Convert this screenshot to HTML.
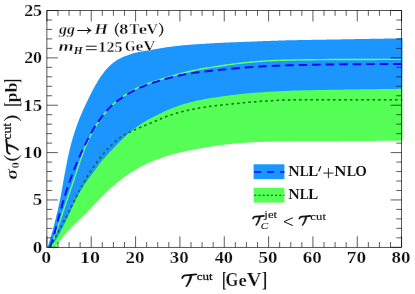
<!DOCTYPE html>
<html><head><meta charset="utf-8"><title>chart</title><style>
html,body{margin:0;padding:0;background:#fff;overflow:hidden;}
svg{display:block;will-change:transform;font-family:"Liberation Serif",serif;font-weight:bold;fill:#111;}
</style></head><body>
<svg width="415" height="294" viewBox="0 0 415 294">
<rect width="415" height="294" fill="#fff"/>
<defs><g id="calT"><path d="M0.15,3.95 C0.6,2.3 1.6,1.5 3.2,1.42 C6,1.28 10.5,0.9 14.3,0.42" fill="none" stroke="#111" stroke-width="1.9" stroke-linecap="round"/><path d="M7.9,1.3 C7.5,4.6 6.3,8.6 3.55,12.45 L4.75,12.75 C7.7,9.1 9.4,5 10.1,1.1 Z" fill="#111" stroke="#111" stroke-width="0.5" stroke-linejoin="round"/></g><g id="calTs"><path d="M0.15,3.95 C0.6,2.3 1.6,1.5 3.2,1.42 C6,1.28 10.5,0.9 14.3,0.42" fill="none" stroke="#111" stroke-width="2.1" stroke-linecap="round"/><path d="M7.9,1.3 C7.5,4.6 6.3,8.6 3.55,12.45 L4.75,12.75 C7.7,9.1 9.4,5 10.1,1.1 Z" fill="#111" stroke="#111" stroke-width="0.7" stroke-linejoin="round"/></g>
<clipPath id="cp"><rect x="46.9" y="10.5" width="355.6" height="236.8"/></clipPath></defs>
<g clip-path="url(#cp)">
<path d="M47.59,247.30 L48.04,245.87 L48.49,244.43 L48.93,243.00 L49.37,241.57 L49.81,240.13 L50.23,238.69 L50.66,237.26 L51.07,235.82 L51.49,234.37 L51.89,232.93 L52.30,231.48 L52.69,230.04 L53.09,228.59 L53.48,227.14 L53.86,225.69 L54.25,224.24 L54.62,222.79 L55.00,221.34 L55.37,219.89 L55.74,218.43 L56.10,216.98 L56.46,215.52 L56.81,214.06 L57.16,212.60 L57.50,211.14 L57.84,209.68 L58.18,208.22 L58.51,206.76 L58.83,205.29 L59.15,203.83 L59.47,202.36 L59.77,200.89 L60.07,199.42 L60.37,197.95 L60.65,196.48 L60.93,195.01 L61.21,193.53 L61.48,192.06 L61.74,190.58 L62.01,189.10 L62.27,187.63 L62.53,186.15 L62.78,184.67 L63.04,183.19 L63.30,181.72 L63.56,180.24 L63.83,178.76 L64.10,177.29 L64.36,175.81 L64.64,174.34 L64.91,172.86 L65.18,171.39 L65.46,169.91 L65.74,168.44 L66.01,166.96 L66.29,165.49 L66.58,164.02 L66.86,162.54 L67.15,161.07 L67.45,159.60 L67.75,158.13 L68.05,156.66 L68.37,155.20 L68.69,153.73 L69.03,152.27 L69.37,150.81 L69.72,149.35 L70.08,147.90 L70.45,146.45 L70.83,144.99 L71.22,143.55 L71.61,142.10 L72.02,140.65 L72.43,139.21 L72.85,137.77 L73.28,136.34 L73.71,134.90 L74.16,133.47 L74.61,132.04 L75.08,130.61 L75.55,129.19 L76.03,127.77 L76.52,126.35 L77.03,124.94 L77.54,123.53 L78.06,122.13 L78.60,120.72 L79.14,119.33 L79.70,117.94 L80.27,116.55 L80.84,115.17 L81.43,113.79 L82.03,112.41 L82.64,111.04 L83.26,109.68 L83.89,108.31 L84.52,106.95 L85.15,105.59 L85.79,104.24 L86.44,102.88 L87.08,101.53 L87.73,100.17 L88.38,98.82 L89.04,97.47 L89.70,96.13 L90.37,94.79 L91.04,93.45 L91.73,92.11 L92.42,90.78 L93.12,89.46 L93.83,88.14 L94.55,86.82 L95.28,85.51 L96.02,84.21 L96.77,82.91 L97.54,81.62 L98.32,80.34 L99.12,79.08 L99.93,77.82 L100.77,76.57 L101.62,75.34 L102.49,74.13 L103.39,72.93 L104.30,71.74 L105.24,70.58 L106.21,69.44 L107.21,68.32 L108.23,67.24 L109.28,66.18 L110.37,65.16 L111.49,64.17 L112.63,63.22 L113.81,62.31 L115.02,61.44 L116.26,60.61 L117.53,59.83 L118.83,59.09 L120.14,58.40 L121.48,57.74 L122.84,57.12 L124.22,56.53 L125.60,55.96 L127.00,55.43 L128.41,54.92 L129.82,54.43 L131.25,53.97 L132.68,53.53 L134.12,53.12 L135.57,52.74 L137.02,52.38 L138.48,52.05 L139.95,51.74 L141.42,51.44 L142.89,51.16 L144.36,50.89 L145.84,50.63 L147.32,50.38 L148.80,50.13 L150.28,49.88 L151.76,49.63 L153.24,49.39 L154.72,49.15 L156.20,48.90 L157.68,48.66 L159.16,48.43 L160.64,48.19 L162.12,47.96 L163.61,47.73 L165.09,47.51 L166.57,47.30 L168.06,47.09 L169.54,46.89 L171.03,46.69 L172.52,46.50 L174.01,46.31 L175.50,46.13 L176.99,45.96 L178.48,45.80 L179.97,45.64 L181.46,45.48 L182.95,45.34 L184.45,45.20 L185.94,45.07 L187.44,44.95 L188.93,44.83 L190.43,44.72 L191.92,44.61 L193.42,44.51 L194.92,44.40 L196.41,44.30 L197.91,44.20 L199.41,44.10 L200.90,44.00 L202.40,43.90 L203.90,43.80 L205.39,43.70 L206.89,43.60 L208.39,43.50 L209.88,43.41 L211.38,43.31 L212.88,43.22 L214.37,43.13 L215.87,43.04 L217.37,42.96 L218.87,42.88 L220.36,42.80 L221.86,42.73 L223.36,42.66 L224.86,42.59 L226.36,42.53 L227.86,42.47 L229.36,42.41 L230.85,42.35 L232.35,42.29 L233.85,42.24 L235.35,42.18 L236.85,42.13 L238.35,42.08 L239.85,42.02 L241.35,41.97 L242.85,41.92 L244.35,41.86 L245.84,41.81 L247.34,41.76 L248.84,41.70 L250.34,41.65 L251.84,41.59 L253.34,41.53 L254.84,41.47 L256.34,41.42 L257.84,41.36 L259.34,41.30 L260.83,41.24 L262.33,41.18 L263.83,41.12 L265.33,41.06 L266.83,41.01 L268.33,40.95 L269.83,40.89 L271.33,40.84 L272.83,40.79 L274.32,40.73 L275.82,40.68 L277.32,40.63 L278.82,40.59 L280.32,40.54 L281.82,40.50 L283.32,40.45 L284.82,40.41 L286.32,40.37 L287.82,40.34 L289.32,40.30 L290.82,40.27 L292.32,40.23 L293.82,40.20 L295.32,40.17 L296.82,40.14 L298.32,40.10 L299.82,40.07 L301.32,40.04 L302.82,40.02 L304.31,39.99 L305.81,39.96 L307.31,39.93 L308.81,39.90 L310.31,39.88 L311.81,39.85 L313.31,39.83 L314.81,39.80 L316.31,39.77 L317.81,39.75 L319.31,39.72 L320.81,39.70 L322.31,39.68 L323.81,39.65 L325.31,39.63 L326.81,39.60 L328.31,39.58 L329.81,39.55 L331.31,39.53 L332.81,39.50 L334.31,39.48 L335.81,39.46 L337.31,39.43 L338.81,39.41 L340.31,39.38 L341.81,39.35 L343.31,39.33 L344.81,39.30 L346.31,39.28 L347.81,39.25 L349.31,39.22 L350.81,39.20 L352.31,39.17 L353.81,39.15 L355.31,39.12 L356.81,39.09 L358.31,39.07 L359.81,39.04 L361.31,39.01 L362.81,38.99 L364.31,38.96 L365.81,38.94 L367.31,38.91 L368.81,38.88 L370.31,38.86 L371.80,38.83 L373.30,38.81 L374.80,38.78 L376.30,38.76 L377.80,38.73 L379.30,38.70 L380.80,38.68 L382.30,38.65 L383.80,38.63 L385.30,38.60 L386.80,38.58 L388.30,38.55 L389.80,38.53 L391.30,38.50 L392.80,38.48 L394.30,38.45 L395.80,38.43 L397.30,38.40 L398.80,38.38 L400.30,38.35 L401.80,38.33 L403.30,38.30 L402.56,91.81 L401.06,91.83 L399.56,91.85 L398.06,91.86 L396.56,91.88 L395.06,91.90 L393.56,91.92 L392.06,91.94 L390.56,91.95 L389.06,91.97 L387.56,91.99 L386.06,92.01 L384.56,92.03 L383.06,92.05 L381.56,92.07 L380.06,92.09 L378.56,92.11 L377.06,92.13 L375.56,92.15 L374.06,92.17 L372.56,92.19 L371.06,92.21 L369.56,92.24 L368.06,92.26 L366.56,92.28 L365.06,92.30 L363.56,92.32 L362.06,92.34 L360.56,92.37 L359.06,92.39 L357.56,92.41 L356.06,92.43 L354.56,92.45 L353.06,92.48 L351.56,92.50 L350.06,92.52 L348.56,92.55 L347.06,92.57 L345.56,92.59 L344.06,92.61 L342.56,92.64 L341.06,92.66 L339.56,92.68 L338.06,92.71 L336.56,92.73 L335.06,92.75 L333.56,92.77 L332.06,92.80 L330.56,92.82 L329.06,92.84 L327.56,92.87 L326.06,92.89 L324.56,92.91 L323.06,92.94 L321.56,92.96 L320.06,92.99 L318.56,93.02 L317.06,93.04 L315.56,93.07 L314.07,93.10 L312.57,93.13 L311.07,93.16 L309.57,93.19 L308.07,93.22 L306.57,93.25 L305.07,93.29 L303.57,93.32 L302.07,93.36 L300.57,93.40 L299.07,93.44 L297.57,93.48 L296.07,93.53 L294.57,93.57 L293.07,93.62 L291.57,93.68 L290.07,93.73 L288.58,93.79 L287.08,93.85 L285.58,93.91 L284.08,93.98 L282.58,94.04 L281.08,94.11 L279.58,94.19 L278.09,94.26 L276.59,94.34 L275.09,94.42 L273.59,94.51 L272.10,94.59 L270.60,94.68 L269.10,94.78 L267.60,94.87 L266.11,94.97 L264.61,95.07 L263.11,95.17 L261.62,95.27 L260.12,95.38 L258.63,95.48 L257.13,95.59 L255.63,95.71 L254.14,95.82 L252.64,95.94 L251.15,96.07 L249.65,96.19 L248.16,96.32 L246.67,96.46 L245.17,96.60 L243.68,96.75 L242.19,96.90 L240.70,97.06 L239.20,97.22 L237.71,97.39 L236.22,97.56 L234.73,97.74 L233.25,97.92 L231.76,98.11 L230.27,98.30 L228.78,98.49 L227.30,98.69 L225.81,98.89 L224.32,99.10 L222.84,99.31 L221.35,99.52 L219.87,99.73 L218.38,99.94 L216.90,100.16 L215.42,100.39 L213.93,100.61 L212.45,100.84 L210.97,101.08 L209.49,101.32 L208.01,101.57 L206.53,101.83 L205.06,102.09 L203.58,102.36 L202.11,102.64 L200.64,102.93 L199.17,103.23 L197.70,103.54 L196.24,103.87 L194.78,104.20 L193.32,104.54 L191.86,104.90 L190.41,105.26 L188.95,105.64 L187.51,106.03 L186.06,106.44 L184.62,106.85 L183.19,107.28 L181.75,107.73 L180.33,108.18 L178.90,108.66 L177.49,109.14 L176.07,109.65 L174.67,110.16 L173.27,110.70 L171.87,111.25 L170.48,111.81 L169.10,112.40 L167.73,113.00 L166.36,113.61 L165.00,114.23 L163.64,114.87 L162.29,115.52 L160.94,116.17 L159.59,116.83 L158.25,117.50 L156.91,118.17 L155.57,118.84 L154.23,119.53 L152.90,120.22 L151.57,120.91 L150.25,121.62 L148.93,122.33 L147.62,123.05 L146.31,123.79 L145.01,124.54 L143.73,125.31 L142.45,126.09 L141.19,126.90 L139.93,127.72 L138.69,128.56 L137.46,129.42 L136.25,130.29 L135.04,131.18 L133.84,132.08 L132.66,133.00 L131.49,133.93 L130.32,134.88 L129.18,135.84 L128.04,136.82 L126.92,137.81 L125.81,138.82 L124.72,139.84 L123.63,140.88 L122.56,141.93 L121.49,142.98 L120.43,144.04 L119.38,145.10 L118.32,146.17 L117.27,147.24 L116.22,148.31 L115.17,149.38 L114.14,150.47 L113.11,151.56 L112.08,152.65 L111.06,153.75 L110.04,154.85 L109.03,155.95 L108.01,157.06 L107.00,158.16 L105.99,159.27 L104.98,160.38 L103.98,161.50 L102.99,162.62 L102.02,163.76 L101.07,164.92 L100.14,166.09 L99.22,167.27 L98.33,168.47 L97.45,169.69 L96.58,170.90 L95.71,172.12 L94.83,173.34 L93.95,174.56 L93.06,175.76 L92.17,176.96 L91.26,178.16 L90.35,179.35 L89.44,180.54 L88.54,181.74 L87.65,182.94 L86.77,184.15 L85.90,185.38 L85.05,186.61 L84.22,187.86 L83.41,189.12 L82.62,190.39 L81.84,191.67 L81.08,192.96 L80.32,194.26 L79.59,195.56 L78.86,196.88 L78.15,198.19 L77.45,199.52 L76.76,200.85 L76.08,202.19 L75.42,203.53 L74.76,204.88 L74.12,206.24 L73.49,207.60 L72.86,208.96 L72.24,210.32 L71.62,211.69 L71.00,213.06 L70.39,214.43 L69.77,215.79 L69.15,217.16 L68.53,218.52 L67.90,219.88 L67.26,221.24 L66.62,222.59 L65.96,223.94 L65.30,225.29 L64.63,226.63 L63.95,227.97 L63.26,229.30 L62.57,230.63 L61.87,231.96 L61.17,233.29 L60.47,234.61 L59.77,235.94 L59.06,237.26 L58.35,238.57 L57.62,239.88 L56.88,241.18 L56.11,242.45 L55.30,243.70 L54.45,244.90 L53.54,246.05 L52.57,247.14 L51.53,248.18 L50.43,249.14 L49.28,250.05 Z" fill="#1b96ff"/>
<path d="M49.28,247.05 L50.43,246.14 L51.53,245.18 L52.57,244.14 L53.54,243.05 L54.45,241.90 L55.30,240.70 L56.11,239.45 L56.88,238.18 L57.62,236.88 L58.35,235.57 L59.06,234.26 L59.77,232.94 L60.47,231.61 L61.17,230.29 L61.87,228.96 L62.57,227.63 L63.26,226.30 L63.95,224.97 L64.63,223.63 L65.30,222.29 L65.96,220.94 L66.62,219.59 L67.26,218.24 L67.90,216.88 L68.53,215.52 L69.15,214.16 L69.77,212.79 L70.39,211.43 L71.00,210.06 L71.62,208.69 L72.24,207.32 L72.86,205.96 L73.49,204.60 L74.12,203.24 L74.76,201.88 L75.42,200.53 L76.08,199.19 L76.76,197.85 L77.45,196.52 L78.15,195.19 L78.86,193.88 L79.59,192.56 L80.32,191.26 L81.08,189.96 L81.84,188.67 L82.62,187.39 L83.41,186.12 L84.22,184.86 L85.05,183.61 L85.90,182.38 L86.77,181.15 L87.65,179.94 L88.54,178.74 L89.44,177.54 L90.35,176.35 L91.26,175.16 L92.17,173.96 L93.06,172.76 L93.95,171.56 L94.83,170.34 L95.71,169.12 L96.58,167.90 L97.45,166.69 L98.33,165.47 L99.22,164.27 L100.14,163.09 L101.07,161.92 L102.02,160.76 L102.99,159.62 L103.98,158.50 L104.98,157.38 L105.99,156.27 L107.00,155.16 L108.01,154.06 L109.03,152.95 L110.04,151.85 L111.06,150.75 L112.08,149.65 L113.11,148.56 L114.14,147.47 L115.17,146.38 L116.22,145.31 L117.27,144.24 L118.32,143.17 L119.38,142.10 L120.43,141.04 L121.49,139.98 L122.56,138.93 L123.63,137.88 L124.72,136.84 L125.81,135.82 L126.92,134.81 L128.04,133.82 L129.18,132.84 L130.32,131.88 L131.49,130.93 L132.66,130.00 L133.84,129.08 L135.04,128.18 L136.25,127.29 L137.46,126.42 L138.69,125.56 L139.93,124.72 L141.19,123.90 L142.45,123.09 L143.73,122.31 L145.01,121.54 L146.31,120.79 L147.62,120.05 L148.93,119.33 L150.25,118.62 L151.57,117.91 L152.90,117.22 L154.23,116.53 L155.57,115.84 L156.91,115.17 L158.25,114.50 L159.59,113.83 L160.94,113.17 L162.29,112.52 L163.64,111.87 L165.00,111.23 L166.36,110.61 L167.73,110.00 L169.10,109.40 L170.48,108.81 L171.87,108.25 L173.27,107.70 L174.67,107.16 L176.07,106.65 L177.49,106.14 L178.90,105.66 L180.33,105.18 L181.75,104.73 L183.19,104.28 L184.62,103.85 L186.06,103.44 L187.51,103.03 L188.95,102.64 L190.41,102.26 L191.86,101.90 L193.32,101.54 L194.78,101.20 L196.24,100.87 L197.70,100.54 L199.17,100.23 L200.64,99.93 L202.11,99.64 L203.58,99.36 L205.06,99.09 L206.53,98.83 L208.01,98.57 L209.49,98.32 L210.97,98.08 L212.45,97.84 L213.93,97.61 L215.42,97.39 L216.90,97.16 L218.38,96.94 L219.87,96.73 L221.35,96.52 L222.84,96.31 L224.32,96.10 L225.81,95.89 L227.30,95.69 L228.78,95.49 L230.27,95.30 L231.76,95.11 L233.25,94.92 L234.73,94.74 L236.22,94.56 L237.71,94.39 L239.20,94.22 L240.70,94.06 L242.19,93.90 L243.68,93.75 L245.17,93.60 L246.67,93.46 L248.16,93.32 L249.65,93.19 L251.15,93.07 L252.64,92.94 L254.14,92.82 L255.63,92.71 L257.13,92.59 L258.63,92.48 L260.12,92.38 L261.62,92.27 L263.11,92.17 L264.61,92.07 L266.11,91.97 L267.60,91.87 L269.10,91.78 L270.60,91.68 L272.10,91.59 L273.59,91.51 L275.09,91.42 L276.59,91.34 L278.09,91.26 L279.58,91.19 L281.08,91.11 L282.58,91.04 L284.08,90.98 L285.58,90.91 L287.08,90.85 L288.58,90.79 L290.07,90.73 L291.57,90.68 L293.07,90.62 L294.57,90.57 L296.07,90.53 L297.57,90.48 L299.07,90.44 L300.57,90.40 L302.07,90.36 L303.57,90.32 L305.07,90.29 L306.57,90.25 L308.07,90.22 L309.57,90.19 L311.07,90.16 L312.57,90.13 L314.07,90.10 L315.56,90.07 L317.06,90.04 L318.56,90.02 L320.06,89.99 L321.56,89.96 L323.06,89.94 L324.56,89.91 L326.06,89.89 L327.56,89.87 L329.06,89.84 L330.56,89.82 L332.06,89.80 L333.56,89.77 L335.06,89.75 L336.56,89.73 L338.06,89.71 L339.56,89.68 L341.06,89.66 L342.56,89.64 L344.06,89.61 L345.56,89.59 L347.06,89.57 L348.56,89.55 L350.06,89.52 L351.56,89.50 L353.06,89.48 L354.56,89.45 L356.06,89.43 L357.56,89.41 L359.06,89.39 L360.56,89.37 L362.06,89.34 L363.56,89.32 L365.06,89.30 L366.56,89.28 L368.06,89.26 L369.56,89.24 L371.06,89.21 L372.56,89.19 L374.06,89.17 L375.56,89.15 L377.06,89.13 L378.56,89.11 L380.06,89.09 L381.56,89.07 L383.06,89.05 L384.56,89.03 L386.06,89.01 L387.56,88.99 L389.06,88.97 L390.56,88.95 L392.06,88.94 L393.56,88.92 L395.06,88.90 L396.56,88.88 L398.06,88.86 L399.56,88.85 L401.06,88.83 L402.56,88.81 L403.28,140.60 L401.78,140.62 L400.28,140.63 L398.78,140.65 L397.28,140.66 L395.78,140.68 L394.28,140.70 L392.78,140.71 L391.28,140.73 L389.78,140.74 L388.28,140.76 L386.78,140.77 L385.28,140.78 L383.78,140.80 L382.28,140.81 L380.78,140.83 L379.28,140.84 L377.78,140.85 L376.28,140.87 L374.78,140.88 L373.28,140.89 L371.78,140.91 L370.28,140.92 L368.78,140.93 L367.28,140.94 L365.79,140.96 L364.29,140.97 L362.79,140.98 L361.29,140.99 L359.79,141.00 L358.29,141.01 L356.79,141.02 L355.29,141.03 L353.79,141.04 L352.29,141.05 L350.79,141.06 L349.29,141.07 L347.79,141.08 L346.29,141.09 L344.79,141.10 L343.29,141.11 L341.79,141.12 L340.29,141.12 L338.79,141.13 L337.29,141.14 L335.79,141.14 L334.29,141.15 L332.79,141.16 L331.29,141.16 L329.79,141.17 L328.29,141.17 L326.79,141.18 L325.29,141.18 L323.79,141.19 L322.29,141.19 L320.79,141.20 L319.29,141.21 L317.79,141.21 L316.29,141.22 L314.79,141.22 L313.29,141.23 L311.79,141.24 L310.29,141.24 L308.79,141.25 L307.29,141.26 L305.79,141.27 L304.29,141.28 L302.79,141.28 L301.29,141.29 L299.79,141.30 L298.29,141.32 L296.79,141.33 L295.29,141.34 L293.79,141.35 L292.29,141.37 L290.79,141.38 L289.29,141.40 L287.79,141.41 L286.29,141.43 L284.79,141.45 L283.29,141.47 L281.79,141.49 L280.29,141.51 L278.79,141.53 L277.29,141.55 L275.79,141.58 L274.29,141.60 L272.79,141.63 L271.29,141.66 L269.79,141.69 L268.29,141.72 L266.79,141.75 L265.29,141.78 L263.79,141.82 L262.29,141.86 L260.79,141.91 L259.29,141.96 L257.79,142.01 L256.30,142.07 L254.80,142.14 L253.30,142.21 L251.80,142.30 L250.30,142.38 L248.81,142.47 L247.31,142.57 L245.81,142.67 L244.32,142.77 L242.82,142.88 L241.33,142.99 L239.83,143.11 L238.33,143.23 L236.84,143.35 L235.35,143.48 L233.85,143.61 L232.36,143.75 L230.86,143.89 L229.37,144.05 L227.88,144.21 L226.39,144.38 L224.90,144.55 L223.41,144.74 L221.93,144.94 L220.44,145.15 L218.96,145.37 L217.48,145.60 L216.00,145.83 L214.52,146.07 L213.04,146.32 L211.56,146.56 L210.08,146.81 L208.60,147.05 L207.12,147.30 L205.64,147.55 L204.16,147.79 L202.68,148.04 L201.20,148.29 L199.72,148.54 L198.24,148.80 L196.77,149.06 L195.29,149.33 L193.82,149.60 L192.34,149.88 L190.87,150.16 L189.40,150.46 L187.93,150.76 L186.46,151.06 L185.00,151.38 L183.53,151.70 L182.07,152.03 L180.61,152.37 L179.15,152.72 L177.69,153.07 L176.24,153.44 L174.78,153.81 L173.33,154.19 L171.89,154.59 L170.44,154.99 L169.00,155.40 L167.56,155.82 L166.13,156.26 L164.70,156.71 L163.27,157.17 L161.85,157.64 L160.43,158.13 L159.02,158.63 L157.61,159.15 L156.21,159.68 L154.82,160.23 L153.43,160.80 L152.05,161.38 L150.67,161.98 L149.31,162.60 L147.94,163.22 L146.59,163.87 L145.24,164.52 L143.90,165.19 L142.56,165.87 L141.24,166.57 L139.91,167.28 L138.60,168.00 L137.29,168.73 L136.00,169.48 L134.71,170.24 L133.42,171.02 L132.15,171.81 L130.88,172.61 L129.63,173.43 L128.38,174.26 L127.14,175.10 L125.90,175.96 L124.68,176.82 L123.47,177.71 L122.27,178.60 L121.08,179.51 L119.89,180.43 L118.72,181.37 L117.56,182.31 L116.41,183.27 L115.26,184.24 L114.13,185.22 L113.00,186.21 L111.88,187.20 L110.76,188.20 L109.65,189.21 L108.55,190.23 L107.46,191.26 L106.37,192.29 L105.29,193.33 L104.22,194.38 L103.16,195.44 L102.10,196.51 L101.06,197.58 L100.01,198.66 L98.98,199.74 L97.94,200.83 L96.91,201.91 L95.88,203.00 L94.85,204.09 L93.82,205.18 L92.78,206.27 L91.74,207.35 L90.71,208.43 L89.66,209.51 L88.62,210.59 L87.57,211.66 L86.52,212.73 L85.46,213.80 L84.41,214.86 L83.34,215.92 L82.28,216.97 L81.20,218.02 L80.13,219.07 L79.05,220.11 L77.97,221.15 L76.89,222.19 L75.81,223.23 L74.73,224.27 L73.65,225.31 L72.58,226.36 L71.51,227.42 L70.45,228.48 L69.40,229.55 L68.36,230.63 L67.34,231.72 L66.33,232.83 L65.35,233.96 L64.38,235.10 L63.43,236.26 L62.51,237.44 L61.60,238.63 L60.72,239.84 L59.85,241.06 L59.00,242.29 L58.17,243.54 L57.34,244.79 L56.53,246.05 L55.72,247.31 Z" fill="#55ff55"/>
<path d="M50.80,247.30 L51.29,245.88 L51.78,244.47 L52.27,243.05 L52.77,241.63 L53.26,240.21 L53.75,238.80 L54.24,237.38 L54.73,235.96 L55.22,234.54 L55.71,233.12 L56.19,231.71 L56.68,230.29 L57.17,228.87 L57.66,227.45 L58.14,226.03 L58.63,224.61 L59.11,223.19 L59.60,221.77 L60.08,220.35 L60.57,218.93 L61.05,217.52 L61.54,216.10 L62.02,214.67 L62.50,213.25 L62.98,211.83 L63.47,210.41 L63.95,208.99 L64.43,207.57 L64.91,206.15 L65.39,204.73 L65.88,203.31 L66.36,201.89 L66.84,200.47 L67.32,199.05 L67.81,197.63 L68.29,196.21 L68.77,194.79 L69.25,193.37 L69.74,191.95 L70.22,190.53 L70.70,189.11 L71.19,187.69 L71.67,186.27 L72.15,184.85 L72.63,183.43 L73.12,182.01 L73.60,180.59 L74.08,179.17 L74.56,177.75 L75.04,176.32 L75.52,174.90 L75.99,173.48 L76.46,172.06 L76.93,170.63 L77.40,169.21 L77.87,167.78 L78.33,166.36 L78.80,164.93 L79.27,163.51 L79.74,162.08 L80.22,160.66 L80.70,159.24 L81.18,157.82 L81.68,156.41 L82.19,154.99 L82.70,153.59 L83.23,152.18 L83.78,150.79 L84.33,149.39 L84.90,148.00 L85.47,146.62 L86.06,145.24 L86.66,143.87 L87.27,142.50 L87.89,141.13 L88.53,139.77 L89.17,138.42 L89.82,137.07 L90.49,135.73 L91.17,134.39 L91.86,133.06 L92.56,131.73 L93.28,130.42 L94.01,129.11 L94.76,127.81 L95.53,126.53 L96.31,125.25 L97.11,123.98 L97.93,122.72 L98.76,121.48 L99.61,120.25 L100.48,119.02 L101.36,117.81 L102.26,116.62 L103.18,115.43 L104.11,114.25 L105.05,113.09 L106.01,111.93 L106.98,110.79 L107.97,109.67 L108.97,108.56 L110.00,107.47 L111.04,106.39 L112.10,105.34 L113.19,104.31 L114.30,103.30 L115.42,102.32 L116.57,101.36 L117.74,100.42 L118.92,99.51 L120.12,98.61 L121.34,97.73 L122.56,96.86 L123.79,96.01 L125.03,95.17 L126.28,94.34 L127.54,93.53 L128.81,92.73 L130.08,91.94 L131.37,91.18 L132.67,90.44 L133.99,89.72 L135.31,89.03 L136.65,88.36 L138.00,87.71 L139.37,87.09 L140.74,86.48 L142.11,85.89 L143.50,85.32 L144.89,84.77 L146.29,84.23 L147.70,83.70 L149.10,83.19 L150.52,82.69 L151.93,82.20 L153.35,81.72 L154.78,81.25 L156.21,80.78 L157.64,80.33 L159.07,79.89 L160.50,79.45 L161.94,79.01 L163.37,78.58 L164.81,78.15 L166.25,77.72 L167.69,77.30 L169.13,76.87 L170.56,76.45 L172.00,76.03 L173.45,75.61 L174.89,75.20 L176.33,74.79 L177.78,74.39 L179.22,74.00 L180.67,73.61 L182.12,73.23 L183.57,72.86 L185.03,72.49 L186.49,72.14 L187.95,71.79 L189.41,71.45 L190.87,71.12 L192.33,70.79 L193.80,70.48 L195.27,70.17 L196.74,69.87 L198.21,69.58 L199.68,69.30 L201.16,69.03 L202.63,68.78 L204.11,68.52 L205.59,68.28 L207.07,68.05 L208.56,67.82 L210.04,67.59 L211.52,67.36 L213.00,67.14 L214.49,66.91 L215.97,66.68 L217.45,66.45 L218.93,66.22 L220.41,65.98 L221.90,65.75 L223.38,65.52 L224.86,65.29 L226.34,65.06 L227.83,64.84 L229.31,64.62 L230.80,64.41 L232.28,64.21 L233.77,64.01 L235.26,63.82 L236.74,63.64 L238.23,63.46 L239.72,63.29 L241.21,63.12 L242.71,62.96 L244.20,62.80 L245.69,62.64 L247.18,62.49 L248.67,62.35 L250.17,62.20 L251.66,62.06 L253.15,61.92 L254.65,61.78 L256.14,61.65 L257.64,61.53 L259.13,61.41 L260.63,61.29 L262.12,61.19 L263.62,61.09 L265.12,60.99 L266.61,60.91 L268.11,60.83 L269.61,60.75 L271.11,60.68 L272.61,60.62 L274.10,60.56 L275.60,60.50 L277.10,60.45 L278.60,60.40 L280.10,60.35 L281.60,60.30 L283.10,60.26 L284.60,60.22 L286.10,60.18 L287.60,60.14 L289.10,60.10 L290.60,60.06 L292.10,60.03 L293.60,59.99 L295.10,59.96 L296.60,59.92 L298.09,59.89 L299.59,59.86 L301.09,59.84 L302.59,59.81 L304.09,59.79 L305.59,59.76 L307.09,59.74 L308.59,59.72 L310.09,59.71 L311.59,59.69 L313.09,59.68 L314.59,59.66 L316.09,59.65 L317.59,59.64 L319.09,59.63 L320.59,59.62 L322.09,59.61 L323.59,59.60 L325.09,59.59 L326.59,59.58 L328.09,59.57 L329.59,59.56 L331.09,59.56 L332.59,59.55 L334.09,59.54 L335.59,59.53 L337.09,59.53 L338.59,59.52 L340.09,59.52 L341.59,59.51 L343.09,59.51 L344.59,59.50 L346.09,59.50 L347.59,59.49 L349.09,59.49 L350.59,59.49 L352.09,59.48 L353.59,59.48 L355.09,59.47 L356.59,59.47 L358.09,59.47 L359.59,59.46 L361.09,59.46 L362.59,59.45 L364.09,59.45 L365.59,59.45 L367.09,59.44 L368.59,59.44 L370.09,59.44 L371.59,59.44 L373.09,59.43 L374.59,59.43 L376.09,59.43 L377.59,59.42 L379.09,59.42 L380.59,59.42 L382.09,59.42 L383.59,59.42 L385.09,59.41 L386.59,59.41 L388.09,59.41 L389.59,59.41 L391.09,59.41 L392.59,59.41 L394.09,59.40 L395.59,59.40 L397.09,59.40 L398.59,59.40 L400.09,59.40 L401.59,59.40 L403.09,59.40" fill="none" stroke="#6aff6a" stroke-width="1.4"/>
<path d="M49.95,247.28 L50.50,245.89 L51.03,244.49 L51.55,243.08 L52.05,241.67 L52.53,240.25 L52.98,238.82 L53.42,237.39 L53.84,235.95 L54.25,234.51 L54.64,233.06 L55.02,231.61 L55.40,230.16 L55.78,228.71 L56.15,227.25 L56.53,225.80 L56.91,224.35 L57.28,222.90 L57.66,221.45 L58.05,220.00 L58.43,218.55 L58.82,217.10 L59.21,215.65 L59.60,214.20 L59.99,212.75 L60.38,211.31 L60.78,209.86 L61.17,208.41 L61.58,206.97 L61.98,205.52 L62.39,204.08 L62.81,202.64 L63.23,201.20 L63.66,199.76 L64.09,198.33 L64.53,196.89 L64.98,195.46 L65.43,194.03 L65.89,192.60 L66.35,191.18 L66.82,189.75 L67.30,188.33 L67.77,186.91 L68.26,185.49 L68.75,184.07 L69.25,182.66 L69.75,181.24 L70.25,179.83 L70.77,178.42 L71.28,177.01 L71.81,175.61 L72.33,174.20 L72.87,172.80 L73.41,171.40 L73.95,170.00 L74.50,168.61 L75.06,167.22 L75.62,165.82 L76.19,164.44 L76.76,163.05 L77.34,161.67 L77.92,160.29 L78.51,158.91 L79.11,157.53 L79.72,156.16 L80.33,154.79 L80.95,153.42 L81.57,152.06 L82.21,150.70 L82.84,149.34 L83.49,147.99 L84.14,146.64 L84.79,145.29 L85.45,143.94 L86.12,142.60 L86.80,141.26 L87.48,139.92 L88.17,138.59 L88.87,137.26 L89.57,135.94 L90.29,134.62 L91.01,133.31 L91.75,132.01 L92.50,130.71 L93.26,129.42 L94.03,128.13 L94.82,126.86 L95.62,125.59 L96.44,124.33 L97.27,123.08 L98.11,121.85 L98.97,120.62 L99.85,119.40 L100.74,118.20 L101.65,117.01 L102.57,115.82 L103.51,114.65 L104.46,113.49 L105.42,112.35 L106.40,111.22 L107.40,110.10 L108.41,108.99 L109.44,107.91 L110.50,106.85 L111.57,105.81 L112.67,104.79 L113.79,103.80 L114.93,102.84 L116.10,101.90 L117.29,100.99 L118.49,100.10 L119.71,99.23 L120.94,98.38 L122.19,97.54 L123.44,96.72 L124.70,95.91 L125.97,95.11 L127.24,94.32 L128.52,93.54 L129.81,92.78 L131.11,92.04 L132.43,91.31 L133.75,90.61 L135.08,89.93 L136.43,89.27 L137.78,88.63 L139.15,88.02 L140.52,87.42 L141.90,86.84 L143.29,86.27 L144.69,85.72 L146.09,85.19 L147.49,84.66 L148.90,84.15 L150.32,83.65 L151.73,83.16 L153.15,82.68 L154.58,82.22 L156.01,81.76 L157.44,81.31 L158.87,80.86 L160.31,80.43 L161.74,80.01 L163.19,79.60 L164.63,79.19 L166.08,78.79 L167.52,78.40 L168.97,78.01 L170.42,77.64 L171.88,77.27 L173.33,76.91 L174.79,76.55 L176.25,76.21 L177.71,75.87 L179.18,75.55 L180.64,75.24 L182.11,74.94 L183.58,74.65 L185.06,74.37 L186.53,74.10 L188.01,73.84 L189.49,73.59 L190.97,73.35 L192.45,73.12 L193.93,72.90 L195.42,72.68 L196.90,72.48 L198.39,72.28 L199.88,72.08 L201.36,71.89 L202.85,71.71 L204.34,71.54 L205.83,71.37 L207.32,71.20 L208.82,71.04 L210.31,70.89 L211.80,70.73 L213.29,70.58 L214.78,70.42 L216.28,70.27 L217.77,70.12 L219.26,69.97 L220.75,69.81 L222.24,69.66 L223.74,69.51 L225.23,69.37 L226.72,69.22 L228.22,69.07 L229.71,68.93 L231.20,68.78 L232.69,68.64 L234.19,68.50 L235.68,68.36 L237.17,68.22 L238.67,68.08 L240.16,67.95 L241.66,67.82 L243.15,67.69 L244.65,67.56 L246.14,67.44 L247.64,67.33 L249.13,67.22 L250.63,67.11 L252.12,67.01 L253.62,66.91 L255.12,66.81 L256.62,66.72 L258.11,66.63 L259.61,66.55 L261.11,66.47 L262.61,66.38 L264.10,66.31 L265.60,66.23 L267.10,66.15 L268.60,66.08 L270.10,66.01 L271.59,65.94 L273.09,65.87 L274.59,65.81 L276.09,65.74 L277.59,65.68 L279.09,65.62 L280.59,65.57 L282.09,65.51 L283.59,65.46 L285.08,65.41 L286.58,65.36 L288.08,65.32 L289.58,65.27 L291.08,65.23 L292.58,65.19 L294.08,65.15 L295.58,65.11 L297.08,65.08 L298.58,65.04 L300.08,65.01 L301.58,64.97 L303.08,64.94 L304.58,64.91 L306.08,64.88 L307.58,64.85 L309.08,64.82 L310.58,64.79 L312.08,64.76 L313.58,64.74 L315.08,64.71 L316.58,64.68 L318.08,64.66 L319.58,64.63 L321.07,64.61 L322.57,64.58 L324.07,64.56 L325.57,64.54 L327.07,64.51 L328.57,64.49 L330.07,64.47 L331.57,64.45 L333.07,64.43 L334.57,64.41 L336.07,64.39 L337.57,64.38 L339.07,64.36 L340.57,64.34 L342.07,64.33 L343.57,64.32 L345.07,64.30 L346.57,64.29 L348.07,64.28 L349.57,64.27 L351.07,64.25 L352.57,64.24 L354.07,64.23 L355.57,64.22 L357.07,64.21 L358.57,64.20 L360.07,64.19 L361.57,64.18 L363.07,64.16 L364.57,64.15 L366.07,64.14 L367.57,64.13 L369.07,64.13 L370.57,64.12 L372.07,64.11 L373.57,64.10 L375.07,64.09 L376.57,64.08 L378.07,64.07 L379.57,64.07 L381.07,64.06 L382.57,64.05 L384.07,64.05 L385.57,64.04 L387.07,64.03 L388.57,64.03 L390.07,64.02 L391.57,64.02 L393.07,64.02 L394.57,64.01 L396.07,64.01 L397.57,64.01 L399.07,64.00 L400.57,64.00 L402.07,64.00" fill="none" stroke="#0606fa" stroke-width="1.9" stroke-dasharray="8.5,5"/>
<path d="M50.00,247.30 L50.71,245.98 L51.43,244.66 L52.14,243.34 L52.85,242.02 L53.57,240.70 L54.28,239.38 L54.99,238.06 L55.70,236.74 L56.40,235.42 L57.11,234.09 L57.82,232.77 L58.52,231.45 L59.23,230.12 L59.93,228.80 L60.64,227.47 L61.34,226.15 L62.04,224.82 L62.74,223.49 L63.44,222.17 L64.13,220.84 L64.83,219.51 L65.52,218.18 L66.21,216.85 L66.90,215.52 L67.59,214.18 L68.27,212.85 L68.95,211.51 L69.63,210.17 L70.30,208.83 L70.98,207.49 L71.65,206.15 L72.32,204.81 L72.99,203.47 L73.66,202.13 L74.34,200.79 L75.01,199.45 L75.69,198.11 L76.36,196.77 L77.04,195.43 L77.72,194.09 L78.40,192.76 L79.08,191.42 L79.77,190.09 L80.46,188.75 L81.15,187.42 L81.85,186.09 L82.55,184.77 L83.26,183.45 L83.99,182.14 L84.72,180.83 L85.47,179.53 L86.23,178.24 L87.00,176.95 L87.78,175.68 L88.58,174.40 L89.39,173.14 L90.20,171.88 L91.03,170.63 L91.87,169.39 L92.71,168.15 L93.57,166.92 L94.43,165.69 L95.30,164.47 L96.18,163.26 L97.07,162.05 L97.97,160.85 L98.88,159.65 L99.79,158.47 L100.71,157.28 L101.65,156.11 L102.59,154.95 L103.54,153.79 L104.51,152.64 L105.49,151.50 L106.48,150.38 L107.48,149.26 L108.49,148.16 L109.52,147.07 L110.56,145.99 L111.61,144.92 L112.68,143.87 L113.76,142.84 L114.86,141.82 L115.98,140.83 L117.12,139.87 L118.29,138.94 L119.48,138.05 L120.71,137.20 L121.96,136.38 L123.23,135.60 L124.52,134.85 L125.83,134.13 L127.16,133.43 L128.49,132.76 L129.84,132.10 L131.19,131.45 L132.55,130.82 L133.92,130.20 L135.28,129.59 L136.66,128.98 L138.03,128.39 L139.41,127.80 L140.80,127.22 L142.18,126.64 L143.56,126.06 L144.95,125.48 L146.33,124.90 L147.71,124.32 L149.09,123.74 L150.47,123.15 L151.85,122.56 L153.23,121.96 L154.61,121.36 L155.98,120.77 L157.36,120.18 L158.74,119.60 L160.13,119.02 L161.52,118.45 L162.91,117.90 L164.31,117.36 L165.71,116.82 L167.11,116.31 L168.53,115.80 L169.94,115.31 L171.37,114.84 L172.79,114.38 L174.22,113.93 L175.66,113.50 L177.10,113.08 L178.54,112.67 L179.99,112.27 L181.44,111.89 L182.89,111.52 L184.34,111.16 L185.80,110.81 L187.26,110.47 L188.73,110.14 L190.19,109.82 L191.66,109.51 L193.13,109.22 L194.60,108.93 L196.07,108.65 L197.55,108.38 L199.03,108.12 L200.50,107.86 L201.98,107.62 L203.46,107.38 L204.95,107.15 L206.43,106.93 L207.92,106.72 L209.40,106.52 L210.89,106.32 L212.38,106.13 L213.86,105.94 L215.35,105.76 L216.84,105.59 L218.33,105.42 L219.82,105.25 L221.31,105.09 L222.81,104.93 L224.30,104.78 L225.79,104.62 L227.28,104.47 L228.77,104.32 L230.27,104.17 L231.76,104.01 L233.25,103.86 L234.74,103.70 L236.23,103.54 L237.73,103.39 L239.22,103.23 L240.71,103.07 L242.20,102.91 L243.69,102.76 L245.19,102.61 L246.68,102.47 L248.17,102.33 L249.67,102.19 L251.16,102.06 L252.65,101.94 L254.15,101.82 L255.65,101.70 L257.14,101.59 L258.64,101.48 L260.13,101.37 L261.63,101.27 L263.13,101.17 L264.62,101.07 L266.12,100.98 L267.62,100.88 L269.11,100.80 L270.61,100.71 L272.11,100.63 L273.61,100.55 L275.11,100.47 L276.60,100.40 L278.10,100.34 L279.60,100.28 L281.10,100.22 L282.60,100.17 L284.10,100.12 L285.60,100.07 L287.10,100.03 L288.60,99.99 L290.10,99.96 L291.60,99.92 L293.09,99.90 L294.59,99.87 L296.09,99.85 L297.59,99.84 L299.09,99.82 L300.59,99.82 L302.09,99.81 L303.59,99.81 L305.09,99.80 L306.59,99.80 L308.09,99.80 L309.59,99.80 L311.09,99.80 L312.59,99.80 L314.09,99.80 L315.59,99.80 L317.09,99.80 L318.59,99.80 L320.09,99.80 L321.59,99.80 L323.09,99.80 L324.59,99.80 L326.09,99.80 L327.59,99.80 L329.09,99.80 L330.59,99.80 L332.09,99.80 L333.59,99.80 L335.09,99.80 L336.59,99.80 L338.09,99.80 L339.59,99.80 L341.09,99.80 L342.59,99.80 L344.09,99.80 L345.59,99.80 L347.09,99.80 L348.59,99.80 L350.09,99.80 L351.59,99.80 L353.09,99.80 L354.59,99.80 L356.09,99.79 L357.59,99.79 L359.09,99.79 L360.59,99.79 L362.09,99.79 L363.59,99.79 L365.09,99.78 L366.59,99.78 L368.09,99.78 L369.59,99.78 L371.09,99.77 L372.59,99.77 L374.09,99.77 L375.59,99.77 L377.09,99.76 L378.59,99.76 L380.09,99.76 L381.59,99.75 L383.09,99.75 L384.59,99.75 L386.09,99.74 L387.59,99.74 L389.09,99.74 L390.59,99.73 L392.09,99.73 L393.59,99.73 L395.09,99.72 L396.59,99.72 L398.09,99.71 L399.59,99.71 L401.09,99.71 L402.59,99.70" fill="none" stroke="#006400" stroke-width="1.5" stroke-dasharray="2.4,3.25"/>
</g>
<path d="M46.90,247.3 v-11 M46.90,10.5 v11 M57.98,247.3 v-5.3 M57.98,10.5 v5.3 M69.07,247.3 v-5.3 M69.07,10.5 v5.3 M80.15,247.3 v-5.3 M80.15,10.5 v5.3 M91.24,247.3 v-11 M91.24,10.5 v11 M102.32,247.3 v-5.3 M102.32,10.5 v5.3 M113.41,247.3 v-5.3 M113.41,10.5 v5.3 M124.49,247.3 v-5.3 M124.49,10.5 v5.3 M135.58,247.3 v-11 M135.58,10.5 v11 M146.66,247.3 v-5.3 M146.66,10.5 v5.3 M157.74,247.3 v-5.3 M157.74,10.5 v5.3 M168.83,247.3 v-5.3 M168.83,10.5 v5.3 M179.91,247.3 v-11 M179.91,10.5 v11 M191.00,247.3 v-5.3 M191.00,10.5 v5.3 M202.08,247.3 v-5.3 M202.08,10.5 v5.3 M213.17,247.3 v-5.3 M213.17,10.5 v5.3 M224.25,247.3 v-11 M224.25,10.5 v11 M235.33,247.3 v-5.3 M235.33,10.5 v5.3 M246.42,247.3 v-5.3 M246.42,10.5 v5.3 M257.50,247.3 v-5.3 M257.50,10.5 v5.3 M268.59,247.3 v-11 M268.59,10.5 v11 M279.67,247.3 v-5.3 M279.67,10.5 v5.3 M290.76,247.3 v-5.3 M290.76,10.5 v5.3 M301.84,247.3 v-5.3 M301.84,10.5 v5.3 M312.93,247.3 v-11 M312.93,10.5 v11 M324.01,247.3 v-5.3 M324.01,10.5 v5.3 M335.09,247.3 v-5.3 M335.09,10.5 v5.3 M346.18,247.3 v-5.3 M346.18,10.5 v5.3 M357.26,247.3 v-11 M357.26,10.5 v11 M368.35,247.3 v-5.3 M368.35,10.5 v5.3 M379.43,247.3 v-5.3 M379.43,10.5 v5.3 M390.52,247.3 v-5.3 M390.52,10.5 v5.3 M401.60,247.3 v-11 M401.60,10.5 v11 M46.9,247.30 h11 M401.6,247.30 h-11 M46.9,237.83 h5.3 M401.6,237.83 h-5.3 M46.9,228.36 h5.3 M401.6,228.36 h-5.3 M46.9,218.88 h5.3 M401.6,218.88 h-5.3 M46.9,209.41 h5.3 M401.6,209.41 h-5.3 M46.9,199.94 h11 M401.6,199.94 h-11 M46.9,190.47 h5.3 M401.6,190.47 h-5.3 M46.9,181.00 h5.3 M401.6,181.00 h-5.3 M46.9,171.52 h5.3 M401.6,171.52 h-5.3 M46.9,162.05 h5.3 M401.6,162.05 h-5.3 M46.9,152.58 h11 M401.6,152.58 h-11 M46.9,143.11 h5.3 M401.6,143.11 h-5.3 M46.9,133.64 h5.3 M401.6,133.64 h-5.3 M46.9,124.16 h5.3 M401.6,124.16 h-5.3 M46.9,114.69 h5.3 M401.6,114.69 h-5.3 M46.9,105.22 h11 M401.6,105.22 h-11 M46.9,95.75 h5.3 M401.6,95.75 h-5.3 M46.9,86.28 h5.3 M401.6,86.28 h-5.3 M46.9,76.80 h5.3 M401.6,76.80 h-5.3 M46.9,67.33 h5.3 M401.6,67.33 h-5.3 M46.9,57.86 h11 M401.6,57.86 h-11 M46.9,48.39 h5.3 M401.6,48.39 h-5.3 M46.9,38.92 h5.3 M401.6,38.92 h-5.3 M46.9,29.44 h5.3 M401.6,29.44 h-5.3 M46.9,19.97 h5.3 M401.6,19.97 h-5.3 M46.9,10.50 h11 M401.6,10.50 h-11" stroke="#000" stroke-width="0.64" fill="none"/>
<rect x="46.9" y="10.5" width="354.70000000000005" height="236.8" fill="none" stroke="#000" stroke-width="0.66"/>

<text transform="translate(59.00,33.50) scale(1.148,1.000)" font-size="14" font-style="italic" font-weight="bold" stroke="#fff" stroke-width="0.28">gg</text>
<text transform="translate(94.51,33.70) scale(1.157,1.000)" font-size="14.8" font-style="italic" font-weight="bold" stroke="#fff" stroke-width="0.28">H</text>
<text transform="translate(119.23,33.70) scale(1.291,1.000)" font-size="14" font-weight="bold" stroke="#fff" stroke-width="0.28">8</text>
<text transform="translate(129.50,33.60) scale(1.000,1.000)" font-size="14.7" font-weight="bold" stroke="#fff" stroke-width="0.28">T</text>
<text transform="translate(138.83,33.60) scale(1.300,1.000)" font-size="14.4" font-weight="bold" stroke="#fff" stroke-width="0.28">e</text>
<text transform="translate(146.43,33.60) scale(1.080,1.000)" font-size="14.7" font-weight="bold" stroke="#fff" stroke-width="0.28">V</text>
<text transform="translate(58.41,51.40) scale(1.385,1.000)" font-size="14.2" font-style="italic" font-weight="bold" stroke="#fff" stroke-width="0.28">m</text>
<text transform="translate(73.70,54.10) scale(1.112,1.000)" font-size="10.2" font-style="italic" font-weight="bold" stroke="#fff" stroke-width="0.08">H</text>
<text transform="translate(98.37,51.60) scale(1.147,1.000)" font-size="14" font-weight="bold" stroke="#fff" stroke-width="0.28">125</text>
<text transform="translate(124.90,51.40) scale(0.930,1.000)" font-size="14.5" font-weight="bold" stroke="#fff" stroke-width="0.28">G</text>
<text transform="translate(135.47,51.40) scale(1.240,1.000)" font-size="14.4" font-weight="bold" stroke="#fff" stroke-width="0.28">e</text>
<text transform="translate(143.21,51.40) scale(1.169,1.000)" font-size="14.5" font-weight="bold" stroke="#fff" stroke-width="0.28">V</text>
<text transform="translate(288.13,176.40) scale(1.063,1.000)" font-size="14.9" font-weight="bold" stroke="#fff" stroke-width="0.08">N</text>
<text transform="translate(299.67,176.40) scale(0.900,1.000)" font-size="14.9" font-weight="bold" stroke="#fff" stroke-width="0.08">L</text>
<text transform="translate(308.35,176.40) scale(1.000,1.000)" font-size="14.9" font-weight="bold" stroke="#fff" stroke-width="0.08">L</text>
<text transform="translate(334.22,176.40) scale(1.132,1.000)" font-size="14.9" font-weight="bold" stroke="#fff" stroke-width="0.08">N</text>
<text transform="translate(346.66,176.40) scale(0.944,1.000)" font-size="14.9" font-weight="bold" stroke="#fff" stroke-width="0.08">L</text>
<text transform="translate(355.35,176.40) scale(1.000,1.000)" font-size="14.9" font-weight="bold" stroke="#fff" stroke-width="0.08">O</text>
<text transform="translate(288.13,198.60) scale(1.063,1.000)" font-size="14.9" font-weight="bold" stroke="#fff" stroke-width="0.08">N</text>
<text transform="translate(299.67,198.60) scale(0.900,1.000)" font-size="14.9" font-weight="bold" stroke="#fff" stroke-width="0.08">L</text>
<text transform="translate(308.35,198.60) scale(1.000,1.000)" font-size="14.9" font-weight="bold" stroke="#fff" stroke-width="0.08">L</text>
<text transform="translate(264.33,218.00) scale(1.333,1.000)" font-size="9.6" font-weight="normal" stroke="#111" stroke-width="0.12">jet</text>
<text transform="translate(260.68,228.60) scale(1.235,1.000)" font-size="9" font-style="italic" font-weight="normal" stroke="#111" stroke-width="0.12">C</text>
<text transform="translate(310.37,219.60) scale(1.330,1.000)" font-size="9.6" font-weight="normal" stroke="#111" stroke-width="0.12">cut</text>
<text transform="translate(196.70,279.70) scale(1.185,1.000)" font-size="11" font-weight="normal" stroke="#111" stroke-width="0.25">cut</text>
<text transform="translate(222.00,287.23) scale(0.800,1.237)" font-size="16.7" font-weight="bold" stroke="#fff" stroke-width="0.2">[</text>
<text transform="translate(225.58,285.90) scale(0.920,1.000)" font-size="18" font-weight="bold" stroke="#fff" stroke-width="0.2">G</text>
<text transform="translate(238.50,285.90) scale(1.062,1.000)" font-size="17.6" font-weight="bold" stroke="#fff" stroke-width="0.2">e</text>
<text transform="translate(246.82,285.90) scale(1.128,1.000)" font-size="18" font-weight="bold" stroke="#fff" stroke-width="0.2">V</text>
<text transform="translate(261.89,287.23) scale(0.943,1.237)" font-size="16.7" font-weight="bold" stroke="#fff" stroke-width="0.2">]</text>
<text transform="translate(41.29,263.00) scale(1.215,1.000)" font-size="16.3" font-weight="bold" stroke="#fff" stroke-width="0.2">0</text>
<text transform="translate(80.09,263.00) scale(1.229,1.000)" font-size="16.3" font-weight="bold" stroke="#fff" stroke-width="0.2">10</text>
<text transform="translate(125.40,263.00) scale(1.166,1.000)" font-size="16.3" font-weight="bold" stroke="#fff" stroke-width="0.2">20</text>
<text transform="translate(169.74,263.00) scale(1.166,1.000)" font-size="16.3" font-weight="bold" stroke="#fff" stroke-width="0.2">30</text>
<text transform="translate(214.67,263.00) scale(1.128,1.000)" font-size="16.3" font-weight="bold" stroke="#fff" stroke-width="0.2">40</text>
<text transform="translate(258.41,263.00) scale(1.166,1.000)" font-size="16.3" font-weight="bold" stroke="#fff" stroke-width="0.2">50</text>
<text transform="translate(302.75,263.00) scale(1.166,1.000)" font-size="16.3" font-weight="bold" stroke="#fff" stroke-width="0.2">60</text>
<text transform="translate(346.78,263.00) scale(1.186,1.000)" font-size="16.3" font-weight="bold" stroke="#fff" stroke-width="0.2">70</text>
<text transform="translate(391.43,263.00) scale(1.166,1.000)" font-size="16.3" font-weight="bold" stroke="#fff" stroke-width="0.2">80</text>
<text transform="translate(32.72,252.65) scale(1.170,1.000)" font-size="16.3" font-weight="bold" stroke="#fff" stroke-width="0.2">0</text>
<text transform="translate(32.72,205.29) scale(1.170,1.000)" font-size="16.3" font-weight="bold" stroke="#fff" stroke-width="0.2">5</text>
<text transform="translate(23.26,157.93) scale(1.157,1.000)" font-size="16.3" font-weight="bold" stroke="#fff" stroke-width="0.2">10</text>
<text transform="translate(23.26,110.57) scale(1.157,1.000)" font-size="16.3" font-weight="bold" stroke="#fff" stroke-width="0.2">15</text>
<text transform="translate(24.18,63.21) scale(1.098,1.000)" font-size="16.3" font-weight="bold" stroke="#fff" stroke-width="0.2">20</text>
<text transform="translate(24.18,15.85) scale(1.098,1.000)" font-size="16.3" font-weight="bold" stroke="#fff" stroke-width="0.2">25</text>
<path d="M118.90,23.00 C113.83,25.99 113.83,33.61 118.90,36.60 C115.23,33.61 115.23,25.99 118.90,23.00 Z" fill="#111" stroke="#111" stroke-width="0.5" stroke-linejoin="round"/>
<path d="M158.90,23.00 C164.50,25.99 164.50,33.61 158.90,36.60 C163.10,33.61 163.10,25.99 158.90,23.00 Z" fill="#111" stroke="#111" stroke-width="0.5" stroke-linejoin="round"/>
<path d="M85.9,46.2 H96.7 M85.9,49.7 H96.7" stroke="#111" stroke-width="0.95" fill="none"/>
<path d="M77.2,30.5 H90.6 M87.3,27.5 Q88.4,30.1 91.2,30.5 Q88.4,30.9 87.3,33.5" stroke="#111" stroke-width="1.05" fill="none"/>
<!-- legend -->
<rect x="253.6" y="164.3" width="30.8" height="14.9" fill="#1b96ff"/>
<path d="M253.6,171.9 H284.4" stroke="#0606fa" stroke-width="1.45" stroke-dasharray="7,6" stroke-dashoffset="-0.5" fill="none"/>
<rect x="253.6" y="187.7" width="30.8" height="14.9" fill="#55ff55"/>
<path d="M254.4,195.3 H284.4" stroke="#006400" stroke-width="1.3" stroke-dasharray="1.9,2.25" fill="none"/>
<path d="M320.8,166.3 L318.7,171.5" stroke="#111" stroke-width="1.2" fill="none"/>
<path d="M323.3,173.1 H333.5 M328.4,168.0 V178.2" stroke="#111" stroke-width="0.9" fill="none"/>
<g transform="translate(252.8,215.5) scale(0.78)"><use href="#calTs"/></g>
<path d="M292.8,217.7 L284,221.65 L292.8,225.6" stroke="#111" stroke-width="1.0" fill="none"/>
<g transform="translate(299.2,215.5) scale(0.78)"><use href="#calTs"/></g>
<!-- x label -->
<g transform="translate(182.1,274.0)"><use href="#calT"/></g>
<!-- y label -->
<g transform="translate(17.0,129) rotate(-90)">
<text transform="translate(-50.38,0.00) scale(1.166,1.000)" font-size="16.7" font-style="italic" font-weight="bold" stroke="#fff" stroke-width="0.2">σ</text>
<text transform="translate(-39.39,2.00) scale(1.178,0.952)" font-size="11" font-weight="bold" stroke="#fff" stroke-width="0.28">0</text>
<text transform="translate(-10.59,-6.10) scale(1.179,1.000)" font-size="11.5" font-weight="normal" stroke="#111" stroke-width="0.25">cut</text>
<text transform="translate(21.89,1.58) scale(0.886,1.259)" font-size="16.7" font-weight="bold" stroke="#fff" stroke-width="0.2">[</text>
<text transform="translate(26.52,-0.50) scale(1.101,1.000)" font-size="16.4" font-weight="bold" stroke="#fff" stroke-width="0.2">pb</text>
<text transform="translate(45.92,1.58) scale(0.771,1.259)" font-size="16.7" font-weight="bold" stroke="#fff" stroke-width="0.2">]</text>
<path d="M-26.40,-12.80 C-33.20,-9.13 -33.20,0.23 -26.40,3.90 C-31.40,0.23 -31.40,-9.13 -26.40,-12.80 Z" fill="#111" stroke="#111" stroke-width="0.5" stroke-linejoin="round"/>
<path d="M8.20,-12.80 C14.87,-9.13 14.87,0.23 8.20,3.90 C13.07,0.23 13.07,-9.13 8.20,-12.80 Z" fill="#111" stroke="#111" stroke-width="0.5" stroke-linejoin="round"/>
<g transform="translate(-25.0,-11.2)"><use href="#calT"/></g>
</g>
</svg>
</body></html>
